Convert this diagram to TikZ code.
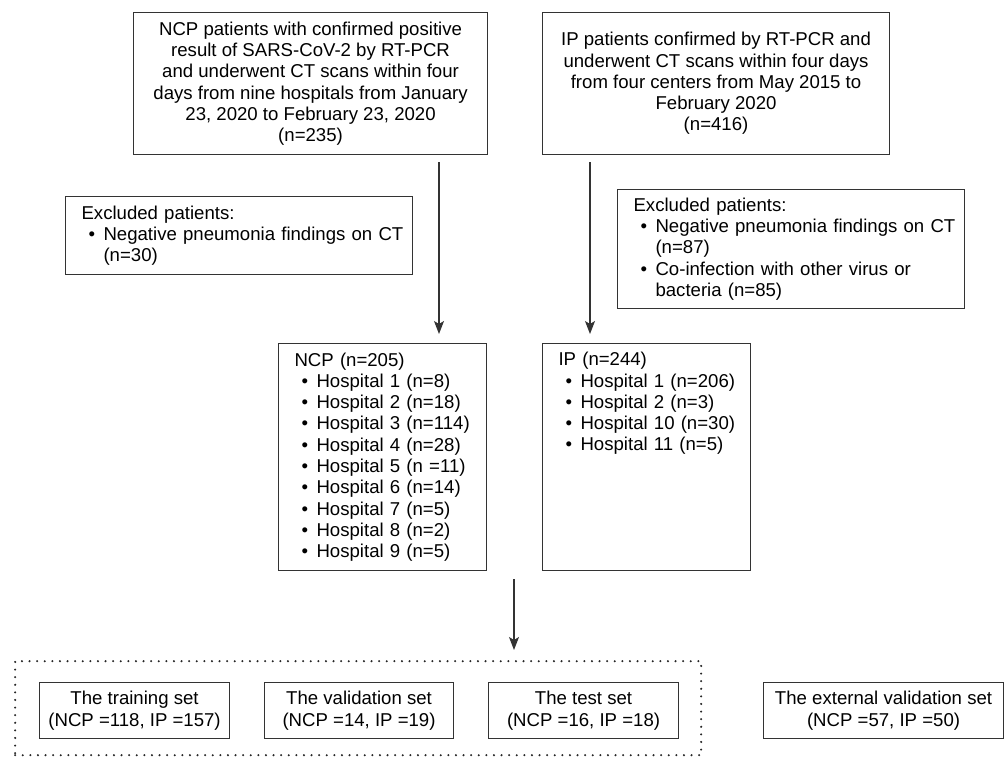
\documentclass[tikz,border=0pt]{standalone}
\usepackage{fontspec}
\setmainfont{Liberation Sans}
\usetikzlibrary{arrows.meta}
\newcommand{\bitem}[1]{\hspace*{7pt}\makebox[15pt][l]{\textbullet}\mbox{#1}}
\newcommand{\bcont}[1]{\hspace*{22pt}\mbox{#1}}

\begin{document}
\begin{tikzpicture}[x=1pt, y=-1pt,
		box/.style={draw=black!80, line width=1.1pt, anchor=north west, inner sep=0pt,
			font=\fontsize{18.6}{21.3}\selectfont, text=black},
		cbox/.style={box, align=center},
		lbox/.style={box, align=left, inner xsep=16pt},
		dotbox/.style={draw=black!85, line width=2.3pt, line cap=round,
			dash pattern=on 0pt off 7.6pt, anchor=north west, inner sep=0pt},
		arr/.style={draw=black!80, line width=1.2pt,
			-{Stealth[length=13pt, width=10pt, inset=3pt]}}]
	\useasboundingbox (0,0) rectangle (1005,756);
	%%%%%%%%%%%%%%%%%%%%%%%%%%%%%%%%
	\node[cbox, minimum width=354, minimum height=142] (ncpall) at (133,12)
		{NCP patients with confirmed positive\\ result of SARS-CoV-2 by RT-PCR\\
		and underwent CT scans within four\\ days from nine hospitals from January\\
		23, 2020 to February 23, 2020\\ (n=235)};
	\node[cbox, minimum width=347, minimum height=142] (ipall) at (542,12)
		{IP patients confirmed by RT-PCR and\\ underwent CT scans within four days\\
		from four centers from May 2015 to\\ February 2020\\ (n=416)};
	%%%%%%%%%%%%%%%%%%%%%%%%%%%%%%%%
	\node[lbox, minimum width=347, minimum height=78, text width=315] (ncpex) at (65,196)
		{Excluded patients:\\ \bitem{Negative pneumonia findings on CT}\\ \bcont{(n=30)}};
	\node[lbox, minimum width=347, minimum height=119, text width=315] (ipex) at (617,189)
		{Excluded patients:\\ \bitem{Negative pneumonia findings on CT}\\ \bcont{(n=87)}\\
		\bitem{Co-infection with other virus or}\\ \bcont{bacteria (n=85)}};
	%%%%%%%%%%%%%%%%%%%%%%%%%%%%%%%%
	\node[lbox, minimum width=208, minimum height=227, text width=176] (ncp) at (278,343)
		{NCP (n=205)\\ \bitem{Hospital 1 (n=8)}\\ \bitem{Hospital 2 (n=18)}\\
		\bitem{Hospital 3 (n=114)}\\ \bitem{Hospital 4 (n=28)}\\ \bitem{Hospital 5 (n =11)}\\
		\bitem{Hospital 6 (n=14)}\\ \bitem{Hospital 7 (n=5)}\\ \bitem{Hospital 8 (n=2)}\\
		\bitem{Hospital 9 (n=5)}};
	\node[lbox, minimum width=208, minimum height=227, text width=176, text depth=196pt] (ip) at (542,343)
		{IP (n=244)\\ \bitem{Hospital 1 (n=206)}\\ \bitem{Hospital 2 (n=3)}\\
		\bitem{Hospital 10 (n=30)}\\ \bitem{Hospital 11 (n=5)}};
	%%%%%%%%%%%%%%%%%%%%%%%%%%%%%%%%
	\node[dotbox, minimum width=686, minimum height=94] (devset) at (14,660) {};
	\node[cbox, minimum width=190, minimum height=56] (train) at (39,682)
		{The training set\\ (NCP =118, IP =157)};
	\node[cbox, minimum width=189, minimum height=56] (valid) at (264,682)
		{The validation set\\ (NCP =14, IP =19)};
	\node[cbox, minimum width=190, minimum height=56] (test) at (488,682)
		{The test set\\ (NCP =16, IP =18)};
	\node[cbox, minimum width=240, minimum height=56] (extval) at (763,682)
		{The external validation set\\ (NCP =57, IP =50)};
	%%%%%%%%%%%%%%%%%%%%%%%%%%%%%%%%
	\coordinate (ncpx) at (439,0);
	\coordinate (ipx) at (590,0);
	\coordinate (splitx) at (514,0);
	\draw[arr, shorten <=7pt, shorten >=9pt] (ncpall.south -| ncpx) -- (ncp.north -| ncpx);
	\draw[arr, shorten <=7pt, shorten >=9pt] (ipall.south -| ipx) -- (ip.north -| ipx);
	\draw[arr, shorten <=8pt, shorten >=10pt] (ncp.south -| splitx) -- (devset.north -| splitx);
\end{tikzpicture}
\end{document}
